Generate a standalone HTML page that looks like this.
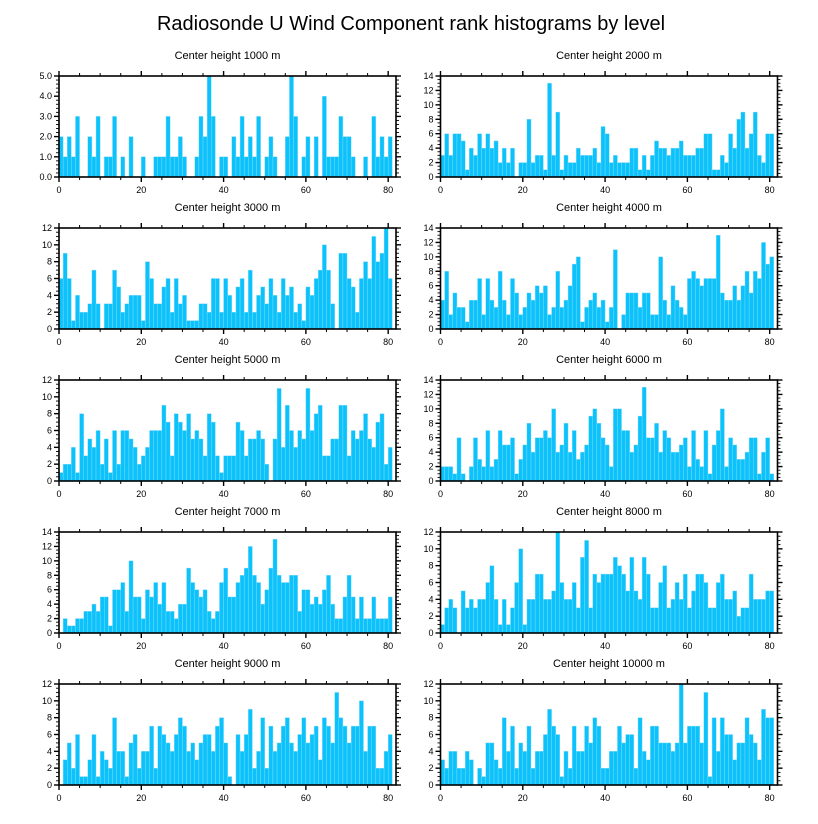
<!DOCTYPE html>
<html><head><meta charset="utf-8">
<style>
body{margin:0;background:#fff;}
svg{display:block;font-family:"Liberation Sans",sans-serif;}
</style></head>
<body>
<svg id="chart" width="818" height="824" viewBox="0 0 818 824">
<text x="411" y="30" font-size="20" text-anchor="middle">Radiosonde U Wind Component rank histograms by level</text>
</svg>
<script>
const panelTitles = ["Center height 1000 m","Center height 2000 m","Center height 3000 m","Center height 4000 m","Center height 5000 m","Center height 6000 m","Center height 7000 m","Center height 8000 m","Center height 9000 m","Center height 10000 m"];
const yMaxes = [5,14,12,14,12,14,14,12,12,12];
const yMajorSteps = [1,2,2,2,2,2,2,2,2,2];
const xTicks = [0,20,40,60,80];
const counts1000 = [2,1,2,1,3,0,0,2,1,3,0,1,1,3,0,1,0,2,0,0,1,0,0,1,1,1,3,1,1,2,1,0,0,1,3,2,5,3,0,1,1,0,2,1,3,1,2,1,3,0,1,2,1,0,0,2,5,3,0,1,2,0,2,0,4,1,1,1,3,2,2,1,0,0,1,0,3,1,2,1,2];
const counts2000 = [3,6,3,6,6,5,1,4,3,6,4,6,4,5,2,4,2,4,0,2,2,8,2,3,3,1,13,3,9,1,3,2,2,4,3,3,3,4,2,7,6,2,3,2,2,2,4,4,1,3,1,3,5,4,4,3,4,4,5,3,3,3,4,4,6,6,1,1,3,2,6,4,8,9,4,6,9,3,2,6,6];
const counts3000 = [6,9,6,1,4,2,2,3,7,3,0,3,3,7,5,2,3,4,4,4,1,8,6,3,3,5,6,2,6,3,4,1,1,1,3,3,2,6,6,2,6,4,2,5,6,2,7,2,4,5,3,6,4,2,6,4,5,2,3,1,5,4,6,7,10,7,3,0,9,9,6,5,2,6,8,6,11,8,9,12,6];
const counts4000 = [4,8,2,5,3,3,1,4,4,7,2,7,4,3,8,4,2,7,5,2,3,5,4,6,5,6,2,3,8,3,4,6,9,10,1,3,4,5,3,4,1,3,11,0,2,5,5,5,3,5,5,2,2,10,4,2,6,4,3,2,7,8,7,6,7,7,7,13,5,4,4,6,4,6,8,5,8,7,12,9,10];
const counts5000 = [1,2,2,4,1,8,3,5,4,6,2,5,1,6,2,6,6,5,4,2,3,4,6,6,6,9,7,3,8,7,6,8,5,6,5,3,8,7,3,1,3,3,3,7,6,3,5,5,6,5,2,0,5,11,4,9,6,4,6,5,11,6,8,9,3,3,5,5,9,9,3,6,5,6,8,5,4,7,8,2,4];
const counts6000 = [2,2,2,1,6,1,0,2,6,3,2,7,2,3,7,5,5,6,1,3,5,8,4,6,6,7,6,10,4,5,8,4,7,3,4,5,9,10,8,6,5,2,10,10,7,7,4,5,9,13,6,6,8,4,7,6,4,4,5,6,2,7,3,2,7,1,5,7,10,2,6,5,3,3,4,6,6,1,4,6,1];
const counts7000 = [0,2,1,1,2,2,3,3,4,3,5,5,1,6,6,7,3,10,5,5,2,6,5,7,4,7,3,3,2,4,4,9,7,6,5,6,3,2,3,7,9,5,5,7,8,9,12,8,7,4,6,9,13,8,7,7,8,8,3,6,6,4,5,4,6,8,4,2,2,5,8,5,2,5,2,2,5,2,2,2,5];
const counts8000 = [1,3,4,3,0,5,3,4,3,4,4,6,8,4,1,4,1,3,6,10,1,4,4,7,7,4,4,5,12,6,4,4,6,3,9,11,3,7,6,7,7,7,9,8,7,5,9,5,4,9,7,3,3,6,8,3,4,6,4,7,3,5,7,7,6,3,3,6,7,4,4,5,2,3,3,7,4,4,4,5,5];
const counts9000 = [0,3,5,2,6,1,1,3,6,1,4,3,2,8,4,4,1,5,6,2,4,4,7,2,7,6,5,4,6,8,7,4,5,3,5,6,6,4,7,8,5,1,0,6,4,6,9,2,4,8,2,7,4,5,7,8,5,4,6,8,5,6,7,3,8,7,5,11,8,7,5,7,7,10,4,7,7,2,2,4,6];
const counts10000 = [3,2,4,4,2,2,4,3,0,2,1,5,5,3,2,8,4,7,2,5,4,7,2,4,4,6,9,7,6,1,4,2,7,4,4,7,5,8,7,2,2,4,4,7,5,6,6,2,8,4,3,7,7,5,5,5,4,5,12,5,7,7,7,5,11,1,8,4,8,6,6,3,5,5,8,6,5,3,9,8,8];
const allCounts = [counts1000,counts2000,counts3000,counts4000,counts5000,counts6000,counts7000,counts8000,counts9000,counts10000];

const NS = "http://www.w3.org/2000/svg";
const svg = document.getElementById('chart');
function mk(tag, attrs, parent){
  const e = document.createElementNS(NS, tag);
  for (const k in attrs) e.setAttribute(k, attrs[k]);
  parent.appendChild(e);
  return e;
}
const X_MAX = 81.9;
const PW = 337, PH = 101;
const lefts = [59, 440.5];
const tops = [76, 228, 380, 532, 684];

for (let p = 0; p < 10; p++) {
  const col = p % 2, row = Math.floor(p / 2);
  const x0 = lefts[col], y0 = tops[row];
  const ymax = yMaxes[p], step = yMajorSteps[p];
  const xs = v => x0 + v / X_MAX * PW;
  const ys = v => y0 + PH - v / ymax * PH;
  const g = mk('g', {}, svg);
  
  

  const t = mk('text', {x: x0 + PW / 2, y: y0 - 17, 'font-size': 11, 'text-anchor': 'middle'}, g);
  
  
  t.textContent = panelTitles[p];

  const data = allCounts[p];
  data.forEach((v, i) => {
    if (v <= 0) return;
    const r = mk('rect', {x: xs(i), y: ys(v), width: xs(i + 1) - xs(i), height: ys(0) - ys(v), fill: '#0cc2fa', stroke: '#8ddcff', 'stroke-width': 0.4}, g);
    
    
  });

  const frame = mk('rect', {x: x0, y: y0, width: PW, height: PH, fill: 'none', stroke: '#000', 'stroke-width': 1.6}, g);
  
  

  // x ticks
  for (let v = 0; v <= 80; v += 5) {
    const major = v % 20 === 0;
    const L = major ? 5 : 3;
    const x = xs(v);
    mk('line', {x1: x, x2: x, y1: y0 + PH, y2: y0 + PH + L, stroke: '#000', 'stroke-width': major ? 1.4 : 1}, g);
    mk('line', {x1: x, x2: x, y1: y0, y2: y0 - L, stroke: '#000', 'stroke-width': major ? 1.4 : 1}, g);
  }
  xTicks.forEach(v => {
    const tl = mk('text', {x: xs(v), y: y0 + PH + 16, 'font-size': 9, 'text-anchor': 'middle'}, g);
    
    
    tl.textContent = String(v);
  });
  // y ticks
  const minor = step === 1 ? 0.2 : 0.5;
  const nMinor = Math.round(ymax / minor);
  for (let k = 0; k <= nMinor; k++) {
    const v = k * minor;
    const major = Math.abs(v / step - Math.round(v / step)) < 1e-6;
    const L = major ? 5 : 3;
    const y = ys(v);
    mk('line', {x1: x0, x2: x0 - L, y1: y, y2: y, stroke: '#000', 'stroke-width': major ? 1.4 : 0.9}, g);
    mk('line', {x1: x0 + PW, x2: x0 + PW + L, y1: y, y2: y, stroke: '#000', 'stroke-width': major ? 1.4 : 0.9}, g);
  }
  for (let v = 0; v <= ymax + 1e-6; v += step) {
    const tl = mk('text', {x: x0 - 7, y: ys(v) + 3, 'font-size': 9, 'text-anchor': 'end'}, g);
    
    
    tl.textContent = step === 1 ? v.toFixed(1) : String(v);
  }
}
</script>
</body></html>
